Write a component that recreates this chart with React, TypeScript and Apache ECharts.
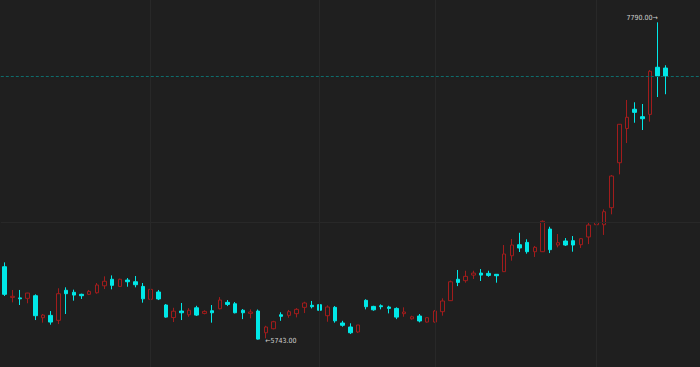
import React, { useEffect, useRef } from 'react';
import * as echarts from 'echarts';

// ---- data ----
const openPrices = [
  6213, 6015, 6012, 6009, 6026, 5884, 5899, 5867, 6061, 6048,
  6035, 6035, 6045, 6090, 6132, 6086, 6127, 6116, 6086, 6003,
  6050, 5966, 5885, 5927, 5903, 5948, 5912, 5929, 5942, 5983,
  5974, 5932, 5912, 5927, 5787, 5813, 5903, 5899, 5910, 5951,
  5964, 5968, 5897, 5951, 5850, 5824, 5792, 5996, 5957, 5961,
  5953, 5944, 5910, 5877, 5895, 5856, 5856, 5923, 5994, 6132,
  6123, 6159, 6172, 6170, 6164, 6181, 6284, 6355, 6370, 6310,
  6310, 6456, 6353, 6379, 6381, 6355, 6405, 6484, 6484, 6594,
  6884, 7105, 7229, 7181, 7196, 7500, 7495,
];
const closePrices = [
  6035, 6022, 6006, 6043, 5897, 5901, 5856, 6039, 6039, 6030,
  6026, 6054, 6095, 6119, 6093, 6132, 6116, 6097, 6006, 6067,
  6005, 5888, 5926, 5916, 5932, 5901, 5925, 5916, 5998, 5970,
  5916, 5916, 5921, 5746, 5824, 5858, 5893, 5923, 5938, 5979,
  5955, 5932, 5953, 5864, 5835, 5787, 5837, 5955, 5935, 5955,
  5944, 5888, 5921, 5890, 5863, 5884, 5927, 5992, 6116, 6112,
  6151, 6172, 6159, 6157, 6155, 6295, 6353, 6334, 6310, 6338,
  6506, 6323, 6368, 6353, 6353, 6394, 6482, 6499, 6568, 6798,
  7132, 7177, 7209, 7168, 7474, 7444, 7444,
];
const lowPrices = [
  6024, 5983, 5966, 5977, 5869, 5852, 5839, 5843, 5908, 5994,
  6005, 6030, 6039, 6069, 6067, 6084, 6084, 6080, 5981, 5998,
  5998, 5884, 5856, 5869, 5890, 5895, 5906, 5852, 5938, 5959,
  5912, 5875, 5880, 5743, 5751, 5809, 5864, 5884, 5886, 5914,
  5944, 5921, 5858, 5852, 5826, 5779, 5785, 5938, 5929, 5938,
  5912, 5875, 5890, 5871, 5854, 5852, 5852, 5897, 5992, 6088,
  6110, 6134, 6121, 6148, 6110, 6179, 6252, 6308, 6297, 6276,
  6308, 6301, 6338, 6347, 6310, 6334, 6359, 6447, 6418, 6551,
  6809, 7011, 7142, 7095, 7149, 7308, 7326,
];
const highPrices = [
  6241, 6063, 6063, 6045, 6035, 5908, 5927, 6074, 6080, 6065,
  6039, 6063, 6108, 6151, 6157, 6136, 6140, 6153, 6108, 6069,
  6063, 5972, 5948, 5979, 5946, 5961, 5932, 5966, 6017, 5998,
  5985, 5940, 5938, 5937, 5832, 5864, 5919, 5934, 5946, 5987,
  5992, 5985, 5964, 5959, 5864, 5848, 5837, 6003, 5961, 5970,
  5961, 5951, 5951, 5897, 5908, 5886, 5934, 6009, 6124, 6192,
  6187, 6187, 6198, 6187, 6164, 6353, 6392, 6432, 6390, 6347,
  6512, 6471, 6424, 6398, 6411, 6398, 6501, 6537, 6583, 6805,
  7134, 7289, 7274, 7263, 7482, 7790, 7513,
];
// category labels (sessions), plus empty slots on the right edge
const sessions = openPrices.map((_, i) => `T${i + 1}`);
const emptySlots = ['', '', '', ''];
// sessions where the vertical grid lines fall
const gridSessions = ['T20', 'T42', 'T57', 'T78'];
// horizontal grid level(s)
const gridLevels = [6500];
// visible price window
const yRange = { min: 5566, max: 7934 };

const UP = '#a11c1c';
const DOWN = '#00e8e8';

export default function App() {
  const ref = useRef<HTMLDivElement>(null);
  useEffect(() => {
    if (!ref.current) return;
    const chart = echarts.init(ref.current, undefined, { renderer: 'svg' });
    const candles = openPrices.map((o, i) => [o, closePrices[i], lowPrices[i], highPrices[i]]);
    const lastClose = closePrices[closePrices.length - 1];
    const gridLine = { color: '#282828', width: 1, type: 'solid' as const };
    const labelFont = 'Liberation Sans Narrow, DejaVu Sans Condensed, Liberation Sans, sans-serif';
    chart.setOption({
      animation: false,
      backgroundColor: '#1f1f1f',
      grid: { left: 0.8, right: -3, top: 0, bottom: 0 },
      xAxis: {
        type: 'category',
        data: [...sessions, ...emptySlots],
        boundaryGap: true,
        axisLine: { show: false },
        axisTick: { show: false },
        axisLabel: { show: false },
        splitLine: { show: false },
      },
      yAxis: {
        type: 'value',
        min: yRange.min,
        max: yRange.max,
        axisLine: { show: false },
        axisTick: { show: false },
        axisLabel: { show: false },
        splitLine: { show: false },
      },
      series: [
        {
          type: 'candlestick',
          data: candles,
          barWidth: 4,
          itemStyle: {
            color: 'rgba(0,0,0,0)',
            color0: DOWN,
            borderColor: UP,
            borderColor0: DOWN,
            borderWidth: 1,
          },
          markLine: {
            silent: true,
            symbol: ['none', 'none'],
            label: { show: false },
            emphasis: { disabled: true },
            data: [
              ...gridSessions.map((s) => ({ xAxis: s, lineStyle: gridLine })),
              ...gridLevels.map((v) => ({ yAxis: v, lineStyle: gridLine })),
              { yAxis: lastClose, lineStyle: { color: '#0f6b6b', width: 1, type: [3, 2] } },
            ],
          },
          markPoint: {
            silent: true,
            symbol: 'circle',
            symbolSize: 0,
            data: [
              {
                type: 'max',
                valueDim: 'highest',
                label: {
                  show: true,
                  position: 'left',
                  distance: 0,
                  offset: [0, -4],
                  color: '#cfcfcf',
                  fontSize: 7,
                  fontFamily: labelFont,
                  formatter: (p: any) => `${Number(p.value).toFixed(2)}→`,
                },
              },
              {
                type: 'min',
                valueDim: 'lowest',
                label: {
                  show: true,
                  position: 'right',
                  distance: 7,
                  offset: [0, 1],
                  color: '#cfcfcf',
                  fontSize: 7,
                  fontFamily: labelFont,
                  formatter: (p: any) => `←${Number(p.value).toFixed(2)}`,
                },
              },
            ],
          },
        },
      ],
    });
    return () => chart.dispose();
  }, []);
  return (
    <div
      ref={ref}
      style={{ position: 'fixed', left: 0, top: 0, width: 700, height: 367, background: '#1f1f1f' }}
    />
  );
}
